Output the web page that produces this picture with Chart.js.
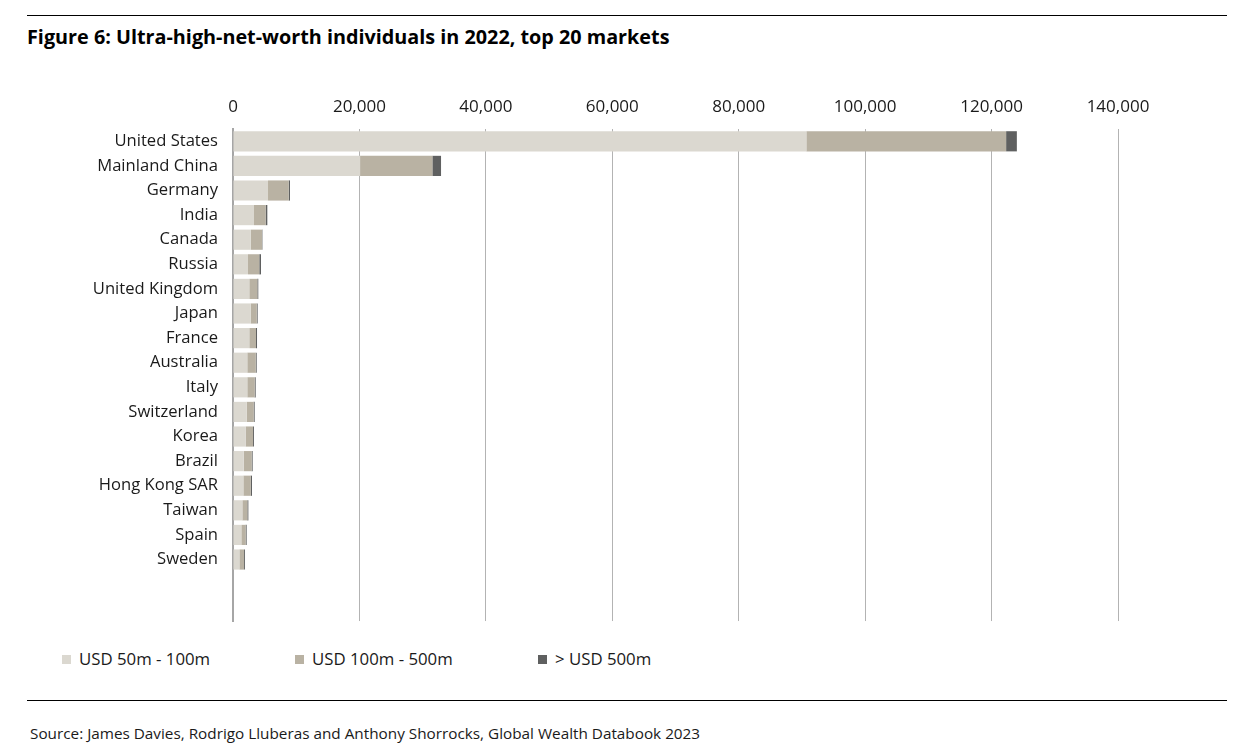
<!DOCTYPE html>
<html>
<head>
<meta charset="utf-8">
<script src="https://cdn.jsdelivr.net/npm/chart.js@4/dist/chart.umd.min.js"></script>
<style>
  html, body { margin: 0; padding: 0; background: #fff; }
  body { width: 1242px; height: 755px; position: relative; overflow: hidden; font-family: "Open Sans", sans-serif; color: #1a1a1a; }
  .rule { position: absolute; left: 27px; width: 1200px; height: 1px; background: #000; }
  #title { position: absolute; left: 27px; top: 23px; font-size: 19.8px; font-weight: 700; color: #000; white-space: nowrap; }
  #source { position: absolute; left: 30px; top: 723px; font-size: 15.3px; color: #1a1a1a; white-space: nowrap; }
  #chartBox { position: absolute; left: 0; top: 0; width: 1242px; height: 646px; }
  .leg { position: absolute; top: 647px; font-size: 16.8px; white-space: nowrap; color: #1a1a1a; }
  .leg i { display: inline-block; width: 9px; height: 9px; margin-right: 8px; vertical-align: 1px; }
</style>
</head>
<body>
<div class="rule" style="top:15px"></div>
<div id="title">Figure 6: Ultra-high-net-worth individuals in 2022, top 20 markets</div>
<div id="chartBox"><canvas id="c"></canvas></div>
<div id="legend"></div>
<div class="rule" style="top:700px"></div>
<div id="source">Source: James Davies, Rodrigo Lluberas and Anthony Shorrocks, Global Wealth Databook 2023</div>
<script>
const categories = ["United States","Mainland China","Germany","India","Canada","Russia","United Kingdom","Japan","France","Australia","Italy","Switzerland","Korea","Brazil","Hong Kong SAR","Taiwan","Spain","Sweden","",""];
const usd50to100  = [90700,20100,5540,3320,2800,2370,2580,2800,2580,2260,2260,2160,2000,1690,1640,1480,1320,1010,null,null];
const usd100to500 = [31600,11440,3270,1850,1790,1790,1270,950,1060,1330,1170,1110,1170,1260,1160,790,680,740,null,null];
const usdOver500  = [1700,1370,210,260,60,270,150,150,160,160,160,160,150,160,210,160,160,150,null,null];
const seriesNames = ["USD 50m - 100m","USD 100m - 500m","> USD 500m"];
const seriesColors = ["#dbd8d0","#b9b2a3","#5f6060"];
const tickValues = [0,20000,40000,60000,80000,100000,120000,140000];

// HTML legend
const legendLefts = [62, 295, 538];
const legendEl = document.getElementById('legend');
seriesNames.forEach((n, i) => {
  const d = document.createElement('div');
  d.className = 'leg';
  d.style.left = legendLefts[i] + 'px';
  d.innerHTML = '<i style="background:' + seriesColors[i] + '"></i>';
  d.appendChild(document.createTextNode(n));
  legendEl.appendChild(d);
});

const ds = [usd50to100, usd100to500, usdOver500].map((arr, i) => ({
  label: seriesNames[i],
  data: arr,
  backgroundColor: seriesColors[i],
  borderWidth: 0,
  barPercentage: 0.82,
  categoryPercentage: 1.0
}));

new Chart(document.getElementById('c'), {
  type: 'bar',
  data: { labels: categories, datasets: ds },
  options: {
    indexAxis: 'y',
    responsive: true,
    maintainAspectRatio: false,
    animation: false,
    layout: { padding: { left: 0, right: 124, top: 0, bottom: 4 } },
    plugins: { legend: { display: false }, tooltip: { enabled: false } },
    scales: {
      x: {
        position: 'top',
        stacked: true,
        min: 0, max: 140000,
        afterBuildTicks: (s) => { s.ticks = tickValues.map(v => ({ value: v })); },
        afterFit: (s) => { s.height = 129; },
        ticks: {
          padding: 12,
          color: '#1a1a1a',
          font: { family: 'Open Sans', size: 17 },
          callback: (v) => v.toLocaleString('en-US')
        },
        grid: { color: '#b3b3b3', lineWidth: 1, drawTicks: false },
        border: { display: false }
      },
      y: {
        stacked: true,
        afterFit: (s) => { s.width = 233; },
        ticks: {
          padding: 15,
          color: '#1a1a1a',
          font: { family: 'Open Sans', size: 16.6 }
        },
        grid: { display: false, drawTicks: false },
        border: { display: true, color: '#a6a6a6', width: 2 }
      }
    }
  }
});
</script>
</body>
</html>
